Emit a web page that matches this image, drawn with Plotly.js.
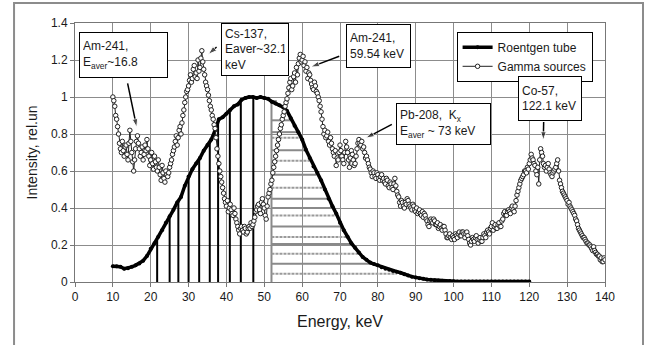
<!DOCTYPE html>
<html>
<head>
<meta charset="utf-8">
<script src="https://cdn.plot.ly/plotly-3.0.1.min.js"></script>
<style>html,body{margin:0;padding:0;background:#fff}#chart{width:652px;height:345px}</style>
</head>
<body>
<div id="chart"></div>
<script>
// Roentgen tube spectrum
const tubeE = [10,11,12,13,14,15,16,17,18,19,20,21,22,23,24,25,26,27,28,29,30,31,32,33,34,35,36,37,38,39,40,41,42,43,44,45,46,47,48,49,50,51,52,53,54,55,56,57,58,59,60,61,62,63,64,65,66,67,68,69,70,71,72,73,74,75,76,77,78,79,80,81,82,83,84,85,86,87,88,89,90,91,92,93,94,95,96,97,98,99,100,101,102,103,104,105,106,107,108,109,110,111,112,113,114,115,116,117,118,119,120];
const tubeI = [0.085,0.085,0.083,0.072,0.075,0.082,0.09,0.10,0.115,0.14,0.18,0.21,0.245,0.28,0.32,0.355,0.39,0.43,0.46,0.52,0.57,0.61,0.64,0.67,0.71,0.74,0.77,0.82,0.88,0.89,0.91,0.93,0.95,0.96,0.985,0.995,1.0,1.0,0.995,1.0,0.995,0.99,0.975,0.965,0.955,0.945,0.925,0.885,0.845,0.81,0.77,0.715,0.67,0.625,0.59,0.55,0.50,0.45,0.41,0.37,0.32,0.28,0.245,0.21,0.185,0.16,0.135,0.12,0.105,0.097,0.09,0.08,0.072,0.066,0.06,0.056,0.05,0.042,0.035,0.029,0.025,0.02,0.017,0.014,0.012,0.01,0.008,0.007,0.006,0.005,0.004,0.003,0.003,0.003,0.003,0.003,0.003,0.003,0.003,0.003,0.003,0.003,0.003,0.003,0.003,0.003,0.003,0.003,0.003,0.003,0.003];

// Gamma sources spectrum
const gammaE = [
10,10.25,10.5,10.75,11,11.25,11.5,11.75,12,12.25,12.5,12.75,13,13.25,13.5,13.75,14,14.25,14.5,14.75,
15,15.25,15.5,15.75,16,16.25,16.5,16.75,17,17.25,17.5,17.75,18,18.25,18.5,18.75,19,19.25,19.5,19.75,
20,20.25,20.5,20.75,21,21.25,21.5,21.75,22,22.25,22.5,22.75,23,23.25,23.5,23.75,24,24.25,24.5,24.75,
25,25.25,25.5,25.75,26,26.25,26.5,26.75,27,27.25,27.5,27.75,28,28.25,28.5,28.75,29,29.25,29.5,29.75,
30,30.25,30.5,30.75,31,31.25,31.5,31.75,32,32.25,32.5,32.75,33,33.25,33.5,33.75,34,34.25,34.5,34.75,
35,35.25,35.5,35.75,36,36.25,36.5,36.75,37,37.25,37.5,37.75,38,38.25,38.5,38.75,39,39.25,39.5,39.75,
40,40.25,40.5,40.75,41,41.25,41.5,41.75,42,42.25,42.5,42.75,43,43.25,43.5,43.75,44,44.25,44.5,44.75,
45,45.25,45.5,45.75,46,46.25,46.5,46.75,47,47.25,47.5,47.75,48,48.25,48.5,48.75,49,49.25,49.5,49.75,
50,50.25,50.5,50.75,51,51.25,51.5,51.75,52,52.25,52.5,52.75,53,53.25,53.5,53.75,54,54.25,54.5,54.75,
55,55.25,55.5,55.75,56,56.25,56.5,56.75,57,57.25,57.5,57.75,58,58.25,58.5,58.75,59,59.25,59.5,59.75,
60,60.25,60.5,60.75,61,61.25,61.5,61.75,62,62.25,62.5,62.75,63,63.25,63.5,63.75,64,64.25,64.5,64.75,
65,65.25,65.5,65.75,66,66.25,66.5,66.75,67,67.25,67.5,67.75,68,68.25,68.5,68.75,69,69.25,69.5,69.75,
70,70.25,70.5,70.75,71,71.25,71.5,71.75,72,72.25,72.5,72.75,73,73.25,73.5,73.75,74,74.25,74.5,74.75,
75,75.25,75.5,75.75,76,76.25,76.5,76.75,77,77.25,77.5,77.75,78,78.25,78.5,78.75,79,79.25,79.5,79.75,
80,80.25,80.5,80.75,81,81.25,81.5,81.75,82,82.25,82.5,82.75,83,83.25,83.5,83.75,84,84.25,84.5,84.75,
85,85.25,85.5,85.75,86,86.25,86.5,86.75,87,87.25,87.5,87.75,88,88.25,88.5,88.75,89,89.25,89.5,89.75,
90,90.25,90.5,90.75,91,91.25,91.5,91.75,92,92.25,92.5,92.75,93,93.25,93.5,93.75,94,94.25,94.5,94.75,
95,95.25,95.5,95.75,96,96.25,96.5,96.75,97,97.25,97.5,97.75,98,98.25,98.5,98.75,99,99.25,99.5,99.75,
100,100.25,100.5,100.75,101,101.25,101.5,101.75,102,102.25,102.5,102.75,103,103.25,103.5,103.75,104,104.25,104.5,104.75,
105,105.25,105.5,105.75,106,106.25,106.5,106.75,107,107.25,107.5,107.75,108,108.25,108.5,108.75,109,109.25,109.5,109.75,
110,110.25,110.5,110.75,111,111.25,111.5,111.75,112,112.25,112.5,112.75,113,113.25,113.5,113.75,114,114.25,114.5,114.75,
115,115.25,115.5,115.75,116,116.25,116.5,116.75,117,117.25,117.5,117.75,118,118.25,118.5,118.75,119,119.25,119.5,119.75,
120,120.25,120.5,120.75,121,121.25,121.5,121.75,122,122.25,122.5,122.75,123,123.25,123.5,123.75,124,124.25,124.5,124.75,
125,125.25,125.5,125.75,126,126.25,126.5,126.75,127,127.25,127.5,127.75,128,128.25,128.5,128.75,129,129.25,129.5,129.75,
130,130.25,130.5,130.75,131,131.25,131.5,131.75,132,132.25,132.5,132.75,133,133.25,133.5,133.75,134,134.25,134.5,134.75,
135,135.25,135.5,135.75,136,136.25,136.5,136.75,137,137.25,137.5,137.75,138,138.25,138.5,138.75,139,139.25,139.5,139.75,
140];
const gammaI = [
1.00,0.98,0.95,0.90,0.88,0.84,0.80,0.75,0.72,0.70,0.76,0.71,0.68,0.73,0.74,0.69,0.66,0.75,0.82,0.76,
0.70,0.65,0.60,0.66,0.72,0.76,0.79,0.75,0.72,0.68,0.70,0.73,0.66,0.69,0.74,0.71,0.77,0.72,0.68,0.63,
0.66,0.70,0.64,0.61,0.68,0.65,0.62,0.60,0.66,0.62,0.58,0.55,0.63,0.59,0.56,0.54,0.60,0.58,0.57,0.59,
0.62,0.64,0.66,0.69,0.71,0.73,0.76,0.79,0.74,0.78,0.82,0.84,0.80,0.86,0.90,0.93,0.97,1.00,1.03,1.04,
1.06,1.09,1.12,1.08,1.10,1.15,1.17,1.11,1.13,1.10,1.20,1.14,1.16,1.21,1.25,1.19,1.15,1.12,1.08,1.06,
1.04,1.01,0.98,0.95,0.93,0.90,0.88,0.85,0.83,0.78,0.72,0.68,0.64,0.60,0.57,0.54,0.51,0.48,0.45,0.43,
0.41,0.44,0.38,0.40,0.42,0.39,0.37,0.36,0.40,0.37,0.34,0.32,0.30,0.28,0.26,0.29,0.30,0.28,0.27,0.30,
0.29,0.26,0.27,0.29,0.30,0.29,0.32,0.30,0.31,0.33,0.35,0.38,0.39,0.41,0.42,0.39,0.37,0.43,0.45,0.42,
0.40,0.36,0.34,0.41,0.46,0.48,0.50,0.53,0.55,0.59,0.62,0.65,0.68,0.71,0.74,0.77,0.80,0.83,0.85,0.88,
0.90,0.92,0.95,0.97,0.99,1.02,1.05,1.08,1.10,1.04,1.06,1.11,1.13,1.08,1.16,1.12,1.18,1.21,1.23,1.19,
1.20,1.22,1.17,1.19,1.14,1.16,1.10,1.13,1.12,1.09,1.07,1.05,1.04,1.08,1.06,1.03,1.02,1.00,0.98,0.95,
0.92,0.88,0.84,0.80,0.82,0.78,0.79,0.81,0.76,0.74,0.78,0.75,0.72,0.70,0.68,0.71,0.63,0.67,0.66,0.70,
0.74,0.71,0.68,0.66,0.64,0.70,0.76,0.73,0.70,0.66,0.62,0.67,0.71,0.69,0.66,0.63,0.64,0.68,0.72,0.75,
0.77,0.75,0.74,0.76,0.72,0.73,0.70,0.67,0.68,0.66,0.64,0.62,0.61,0.59,0.57,0.60,0.59,0.57,0.56,0.59,
0.58,0.56,0.55,0.57,0.58,0.55,0.56,0.54,0.53,0.56,0.55,0.52,0.51,0.54,0.53,0.51,0.50,0.53,0.56,0.52,
0.49,0.47,0.46,0.43,0.41,0.44,0.43,0.41,0.40,0.43,0.42,0.45,0.44,0.42,0.41,0.40,0.39,0.42,0.41,0.39,
0.38,0.40,0.37,0.38,0.39,0.37,0.36,0.38,0.35,0.37,0.36,0.34,0.33,0.31,0.30,0.33,0.34,0.33,0.32,0.34,
0.33,0.31,0.31,0.32,0.29,0.30,0.31,0.29,0.28,0.30,0.30,0.28,0.26,0.24,0.24,0.25,0.26,0.24,0.23,0.25,
0.24,0.23,0.26,0.25,0.24,0.26,0.27,0.25,0.25,0.27,0.27,0.26,0.24,0.26,0.27,0.25,0.23,0.21,0.20,0.22,
0.24,0.23,0.22,0.24,0.25,0.23,0.21,0.23,0.24,0.22,0.22,0.24,0.26,0.25,0.24,0.27,0.28,0.27,0.26,0.29,
0.30,0.32,0.28,0.30,0.31,0.29,0.29,0.31,0.32,0.30,0.30,0.33,0.34,0.37,0.38,0.36,0.36,0.38,0.39,0.38,
0.37,0.40,0.41,0.39,0.38,0.41,0.44,0.47,0.49,0.51,0.53,0.55,0.56,0.57,0.58,0.60,0.60,0.59,0.62,0.61,
0.64,0.66,0.69,0.67,0.66,0.64,0.63,0.60,0.58,0.62,0.53,0.66,0.72,0.70,0.68,0.64,0.62,0.63,0.60,0.62,
0.64,0.61,0.59,0.58,0.57,0.59,0.60,0.61,0.62,0.64,0.66,0.60,0.55,0.53,0.51,0.49,0.48,0.47,0.46,0.45,
0.44,0.42,0.43,0.41,0.40,0.39,0.38,0.37,0.36,0.34,0.33,0.31,0.29,0.28,0.27,0.26,0.25,0.24,0.24,0.23,
0.22,0.21,0.21,0.20,0.20,0.19,0.18,0.17,0.19,0.17,0.16,0.15,0.15,0.14,0.14,0.12,0.13,0.11,0.11,0.13,
0.12];

// Vertical (black) hatching under the rising part of the tube curve
const hatchVE = [21.7,25.0,27.3,30.0,32.8,35.6,37.8,40.9,43.8,47.1];
const hatchVTop = [0.23,0.36,0.44,0.57,0.66,0.76,0.87,0.93,0.98,1.0];
// Horizontal (grey) hatching under the falling part
const hatchHStart = 51.9;
const hatchHTopV = 0.98;
const hatchHLevel = [0.978,0.874,0.81,0.78,0.712,0.655,0.58,0.51,0.45,0.40,0.36,0.30,0.243,0.205,0.153,0.099,0.045];
const hatchHEnd   = [53.3,57.0,58.6,59.4,60.8,62.0,63.8,65.4,66.7,67.8,68.8,70.2,71.7,72.9,75.0,78.2,85.0];
const hatchHDotted = [false,false,false,true,false,true,false,true,false,false,true,false,true,false,true,false,true];

// Annotation arrows: head (E, I) and tail (E, I)
const arrowHeadE = [16.3,35.2,62.3,76.8,123.7];
const arrowHeadI = [0.836,1.231,1.162,0.778,0.766];
const arrowTailE = [13.9,37.4,69.8,83.7,123.8];
const arrowTailI = [1.074,1.27,1.22,0.852,0.865];

function segs(xs0, xs1, ys0, ys1, pick) {
  const x = [], y = [];
  for (let i = 0; i < xs0.length; i++) {
    if (pick && !pick(i)) continue;
    x.push(xs0[i], xs1[i], null);
    y.push(ys0[i], ys1[i], null);
  }
  return {x, y};
}

const vh = segs(hatchVE, hatchVE, hatchVE.map(() => 0), hatchVTop);
const hSolid = segs(hatchHLevel.map(() => hatchHStart), hatchHEnd, hatchHLevel, hatchHLevel, i => !hatchHDotted[i]);
const hDot = segs(hatchHLevel.map(() => hatchHStart), hatchHEnd, hatchHLevel, hatchHLevel, i => hatchHDotted[i]);
hSolid.x.push(hatchHStart, hatchHStart, null);
hSolid.y.push(0, hatchHTopV, null);

const FONT = 'Liberation Sans, Arial, sans-serif';
const TXT = '#1a1a1a';

const traces = [
  {x: vh.x, y: vh.y, mode: 'lines', line: {color: '#000', width: 2}, showlegend: false, hoverinfo: 'skip'},
  {x: hSolid.x, y: hSolid.y, mode: 'lines', line: {color: '#8a8a8a', width: 2}, showlegend: false, hoverinfo: 'skip'},
  {x: hDot.x, y: hDot.y, mode: 'lines', line: {color: '#9a9a9a', width: 2, dash: '3px,1px'}, showlegend: false, hoverinfo: 'skip'},
  {x: tubeE, y: tubeI, name: 'Roentgen tube', mode: 'lines+markers',
   line: {color: '#000', width: 3.5}, marker: {color: '#000', size: 4, symbol: 'circle'}},
  {x: gammaE, y: gammaI, name: 'Gamma sources', mode: 'lines+markers',
   line: {color: '#222', width: 1}, marker: {color: '#fff', size: 4.5, symbol: 'circle', line: {color: '#222', width: 1}}}
];
for (let i = 0; i < arrowHeadE.length; i++) {
  traces.push({x: [arrowTailE[i], arrowHeadE[i]], y: [arrowTailI[i], arrowHeadI[i]], mode: 'lines+markers',
    line: {color: '#000', width: 1.5}, marker: {symbol: 'arrow', size: [0, 9], angleref: 'previous', color: '#000'},
    showlegend: false, hoverinfo: 'skip', cliponaxis: false});
}

function box(text, x, y, w, h) {
  return {text, x, y, xref: 'x', yref: 'y', xanchor: 'left', yanchor: 'top', align: 'left', valign: 'middle',
    showarrow: false, bgcolor: '#fff', bordercolor: '#000', borderwidth: 1, borderpad: 3,
    width: w - 8, height: h - 8, font: {family: FONT, size: 12, color: TXT}};
}

const annotations = [
  box('Am-241,<br>E<sub>aver</sub>~16.8', 1.0, 1.35, 89, 46),
  box('Cs-137,<br>Eaver~32.1<br>keV', 38.5, 1.40, 68, 53),
  box('Am-241,<br>59.54 keV', 71.6, 1.393, 65, 44),
  box('Pb-208,  K<sub>x</sub><br>E<sub>aver</sub> ~ 73 keV', 84.8, 0.966, 95, 42),
  box('Co-57,<br>122.1 keV', 117.0, 1.114, 64, 45)
];

const layout = {
  width: 652, height: 345,
  margin: {l: 75, r: 47, t: 23, b: 63},
  paper_bgcolor: '#fff', plot_bgcolor: '#fff',
  font: {family: FONT, size: 12, color: TXT},
  xaxis: {range: [0, 140], dtick: 10, tick0: 0, showgrid: true, gridcolor: '#8c8c8c', gridwidth: 1,
    showline: true, linecolor: '#777', linewidth: 1, mirror: true, ticks: 'outside', ticklen: 4, tickcolor: '#777',
    zeroline: false, tickfont: {size: 12}, title: {text: 'Energy, keV', font: {size: 16}, standoff: 12}},
  yaxis: {range: [0, 1.4], dtick: 0.2, tick0: 0, showgrid: true, gridcolor: '#8c8c8c', gridwidth: 1,
    showline: true, linecolor: '#777', linewidth: 1, mirror: true, ticks: 'outside', ticklen: 4, tickcolor: '#777',
    zeroline: false, tickfont: {size: 12}, title: {text: 'Intensity, rel.un', font: {size: 14}, standoff: 10}},
  legend: {x: 0.72, y: 0.966, xanchor: 'left', yanchor: 'top', bgcolor: '#fff', bordercolor: '#000', borderwidth: 1,
    font: {family: FONT, size: 12, color: TXT}, tracegroupgap: 0},
  shapes: [{type: 'rect', xref: 'paper', yref: 'paper', x0: -0.115, x1: 1.0717, y0: -0.3, y1: 1.077,
    line: {color: '#8c8c8c', width: 2}, layer: 'below'}],
  annotations: annotations,
  showlegend: true
};

Plotly.newPlot('chart', traces, layout, {displayModeBar: false, staticPlot: true});
</script>
</body>
</html>
